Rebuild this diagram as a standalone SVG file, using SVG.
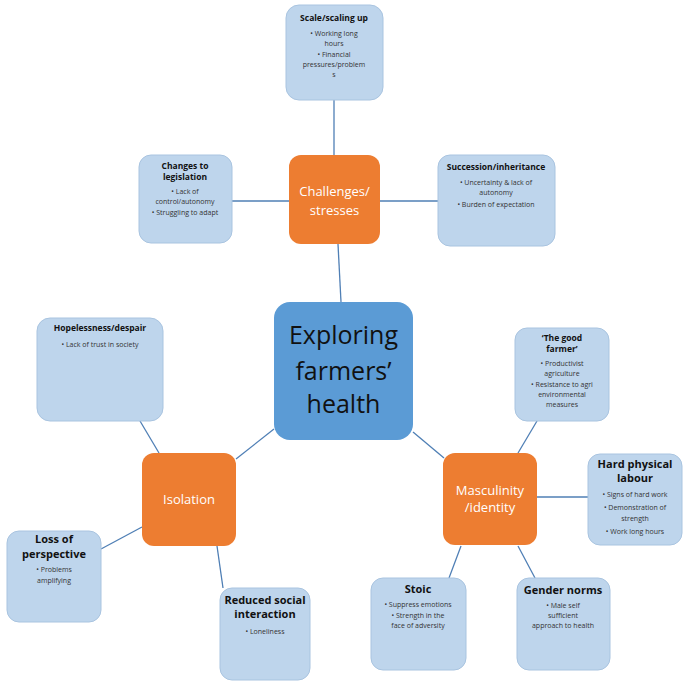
<svg xmlns="http://www.w3.org/2000/svg" width="688" height="685" viewBox="0 0 688 685">
<style>
.leaf{fill:#bed5ec;stroke:#a9c4e0;stroke-width:1}
.hub{fill:#ed7d31}
.core{fill:#5b9bd5}
.conn line{stroke:#4f7fb5;stroke-width:1.3}
text{font-family:"Open Sans","Liberation Sans",sans-serif;text-anchor:middle;fill:#222}
.t{font-weight:bold;font-size:8.5px;fill:#111}
.t2{font-weight:bold;font-size:11px;fill:#111}
.b{font-size:7px;fill:#333}
.w{fill:#fff;font-size:13px}
.c{font-size:25px;fill:#111}
</style>
<rect width="688" height="685" fill="#fff"/>
<g class="conn">
<line x1="334" y1="100" x2="334" y2="155"/>
<line x1="232" y1="201" x2="289" y2="201"/>
<line x1="380" y1="201" x2="438" y2="201"/>
<line x1="338" y1="244" x2="341" y2="302"/>
<line x1="236" y1="459" x2="274" y2="429"/>
<line x1="413" y1="432" x2="444" y2="458"/>
<line x1="140" y1="421" x2="159" y2="453"/>
<line x1="101" y1="549" x2="142" y2="527"/>
<line x1="217" y1="546" x2="223" y2="588"/>
<line x1="537" y1="421" x2="518" y2="453"/>
<line x1="537" y1="497" x2="588" y2="497"/>
<line x1="461" y1="546" x2="449" y2="578"/>
<line x1="518" y1="546" x2="535" y2="578"/>
</g>
<g id="scale"><rect class="leaf" x="286" y="5" width="97" height="95" rx="13"/>
<text class="t" x="334" y="21">Scale/scaling up</text>
<text class="b" x="334" y="36">• Working long</text><text class="b" x="334" y="46">hours</text>
<text class="b" x="334" y="57">• Financial</text><text class="b" x="334" y="67">pressures/problem</text><text class="b" x="334" y="77">s</text></g>
<g id="changes"><rect class="leaf" x="139" y="155" width="93" height="88" rx="12"/>
<text class="t" x="185" y="169">Changes to</text><text class="t" x="185" y="180">legislation</text>
<text class="b" x="185" y="194">• Lack of</text><text class="b" x="185" y="204">control/autonomy</text>
<text class="b" x="185" y="215">• Struggling to adapt</text></g>
<g id="challenges"><rect class="hub" x="289" y="155" width="91" height="89" rx="12"/>
<text class="w" x="334.5" y="196">Challenges/</text><text class="w" x="334.5" y="215">stresses</text></g>
<g id="succession"><rect class="leaf" x="438" y="155" width="117" height="91" rx="12"/>
<text class="t" x="496" y="170">Succession/inheritance</text>
<text class="b" x="496" y="185">• Uncertainty &amp; lack of</text><text class="b" x="496" y="195">autonomy</text>
<text class="b" x="496" y="207">• Burden of expectation</text></g>
<g id="exploring"><rect class="core" x="274" y="302" width="139" height="138" rx="16"/>
<text class="c" x="343.5" y="344">Exploring</text><text class="c" x="343.5" y="380">farmers’</text><text class="c" x="343.5" y="413">health</text></g>
<g id="hopelessness"><rect class="leaf" x="37" y="318" width="126" height="103" rx="13"/>
<text class="t" x="100" y="331">Hopelessness/despair</text>
<text class="b" x="100" y="347">• Lack of trust in society</text></g>
<g id="goodfarmer"><rect class="leaf" x="515" y="328" width="94" height="93" rx="12"/>
<text class="t" x="562" y="341">‘The good</text><text class="t" x="562" y="352">farmer’</text>
<text class="b" x="562" y="366">• Productivist</text><text class="b" x="562" y="376">agriculture</text>
<text class="b" x="562" y="387">• Resistance to agri</text><text class="b" x="562" y="397">environmental</text><text class="b" x="562" y="407">measures</text></g>
<g id="isolation"><rect class="hub" x="142" y="453" width="94" height="93" rx="12"/>
<text class="w" x="189" y="504">Isolation</text></g>
<g id="masculinity"><rect class="hub" x="443" y="453" width="94" height="92" rx="12"/>
<text class="w" x="490" y="495">Masculinity</text><text class="w" x="490" y="512">/identity</text></g>
<g id="hardlabour"><rect class="leaf" x="588" y="454" width="94" height="91" rx="12"/>
<text class="t2" x="635" y="468">Hard physical</text><text class="t2" x="635" y="482">labour</text>
<text class="b" x="635" y="497">• Signs of hard work</text>
<text class="b" x="635" y="510">• Demonstration of</text><text class="b" x="635" y="521">strength</text>
<text class="b" x="635" y="534">• Work long hours</text></g>
<g id="lossperspective"><rect class="leaf" x="7" y="531" width="94" height="91" rx="12"/>
<text class="t2" x="54" y="543">Loss of</text><text class="t2" x="54" y="558">perspective</text>
<text class="b" x="54" y="572">• Problems</text><text class="b" x="54" y="583">amplifying</text></g>
<g id="reducedsocial"><rect class="leaf" x="220" y="588" width="90" height="92" rx="12"/>
<text class="t2" x="265" y="604">Reduced social</text><text class="t2" x="265" y="618">interaction</text>
<text class="b" x="265" y="634">• Loneliness</text></g>
<g id="stoic"><rect class="leaf" x="371" y="578" width="95" height="92" rx="12"/>
<text class="t2" x="418" y="593">Stoic</text>
<text class="b" x="418" y="607">• Suppress emotions</text>
<text class="b" x="418" y="618">• Strength in the</text><text class="b" x="418" y="628">face of adversity</text></g>
<g id="gendernorms"><rect class="leaf" x="517" y="578" width="93" height="92" rx="12"/>
<text class="t2" x="563" y="594">Gender norms</text>
<text class="b" x="563" y="608">• Male self</text><text class="b" x="563" y="618">sufficient</text>
<text class="b" x="563" y="628">approach to health</text></g>
</svg>
